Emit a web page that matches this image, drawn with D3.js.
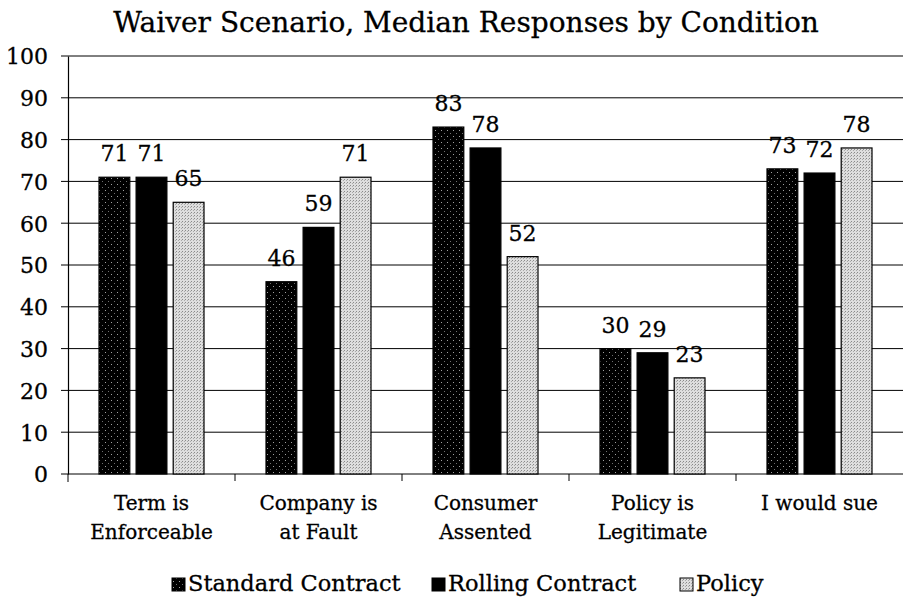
<!DOCTYPE html>
<html>
<head>
<meta charset="utf-8">
<script src="https://cdn.jsdelivr.net/npm/d3@7"></script>
<style>
  body { margin: 0; background: #fff; }
  svg text { font-family: "DejaVu Serif", "Liberation Serif", serif; fill: #000; stroke: #000; stroke-width: 0.3px; }
</style>
</head>
<body>
<svg id="chart"></svg>
<script>
// data
const categories = [["Term is", "Enforceable"], ["Company is", "at Fault"], ["Consumer", "Assented"], ["Policy is", "Legitimate"], ["I would sue"]];
const seriesNames = ["Standard Contract", "Rolling Contract", "Policy"];
const standardValues = [71, 46, 83, 30, 73];
const rollingValues = [71, 59, 78, 29, 72];
const policyValues = [65, 71, 52, 23, 78];
const yTicks = [0, 10, 20, 30, 40, 50, 60, 70, 80, 90, 100];

const width = 905, height = 599;
const margin = {top: 56, right: 2, bottom: 125, left: 68};

const svg = d3.select("#chart").attr("width", width).attr("height", height);

// fill patterns
const defs = svg.append("defs");
const dark = defs.append("pattern").attr("id", "pat-std")
  .attr("width", 6).attr("height", 6).attr("patternUnits", "userSpaceOnUse");
dark.append("rect").attr("width", 6).attr("height", 6).attr("fill", "#000");
dark.append("rect").attr("x", 1).attr("y", 2).attr("width", 1).attr("height", 1).attr("fill", "#a0a0a0");
dark.append("rect").attr("x", 4).attr("y", 5).attr("width", 1).attr("height", 1).attr("fill", "#707070");

const light = defs.append("pattern").attr("id", "pat-pol")
  .attr("width", 3).attr("height", 3).attr("patternUnits", "userSpaceOnUse");
light.append("rect").attr("width", 3).attr("height", 3).attr("fill", "#dedede");
light.append("rect").attr("x", 0).attr("y", 0).attr("width", 1).attr("height", 1).attr("fill", "#8a8a8a");
light.append("rect").attr("x", 2).attr("y", 1).attr("width", 1).attr("height", 1).attr("fill", "#aaaaaa");

const fills = ["url(#pat-std)", "#000", "url(#pat-pol)"];

const chartW = width - margin.left - margin.right;
const chartH = height - margin.top - margin.bottom;

const g = svg.append("g").attr("transform", `translate(${margin.left},${margin.top})`);

const x0 = d3.scaleBand().domain(d3.range(categories.length)).range([0, chartW]);
const x1 = d3.scaleBand().domain(d3.range(seriesNames.length)).range([31, 136]).paddingInner(0.17);
const y = d3.scaleLinear().domain([0, 100]).range([chartH, 0]);

// gridlines
g.selectAll("line.grid").data(yTicks).enter().append("line")
  .attr("class", "grid")
  .attr("x1", -7).attr("x2", chartW)
  .attr("y1", d => y(d)).attr("y2", d => y(d))
  .attr("stroke", "#000").attr("stroke-width", 1);

// y axis
const yAxis = g.append("g").call(d3.axisLeft(y).tickValues(yTicks).tickSize(0).tickPadding(20));
yAxis.select(".domain").attr("stroke", "#000").attr("stroke-width", 1.2);
yAxis.selectAll("text").style("font-size", "22px").attr("dy", "0.36em");
yAxis.append("line").attr("x1", 0).attr("x2", 0).attr("y1", chartH).attr("y2", chartH + 8).attr("stroke", "#000");

// category boundary ticks
g.selectAll("line.ctick").data(d3.range(1, categories.length)).enter().append("line")
  .attr("x1", d => x0(d)).attr("x2", d => x0(d))
  .attr("y1", chartH).attr("y2", chartH + 7)
  .attr("stroke", "#000");

const series = [standardValues, rollingValues, policyValues];
const flat = [];
series.forEach((vals, s) => vals.forEach((v, c) => flat.push({s, c, v})));

g.selectAll("rect.bar").data(flat).enter().append("rect")
  .attr("class", "bar")
  .attr("x", d => x0(d.c) + x1(d.s))
  .attr("width", x1.bandwidth())
  .attr("y", d => y(d.v))
  .attr("height", d => chartH - y(d.v))
  .attr("fill", d => fills[d.s])
  .attr("stroke", "#000").attr("stroke-width", 1.2);

g.selectAll("text.val").data(flat).enter().append("text")
  .attr("x", d => x0(d.c) + x1(d.s) + x1.bandwidth() / 2)
  .attr("y", d => y(d.v) - 16)
  .attr("text-anchor", "middle")
  .style("font-size", "22px")
  .text(d => d.v);

// category labels
const cl = g.selectAll("text.cat").data(categories).enter().append("text")
  .attr("text-anchor", "middle")
  .attr("x", (d, i) => x0(i) + x0.bandwidth() / 2)
  .attr("y", chartH + 36)
  .style("font-size", "20px");
cl.selectAll("tspan").data(d => d).enter().append("tspan")
  .attr("x", function() { return d3.select(this.parentNode).attr("x"); })
  .attr("dy", (d, i) => i === 0 ? 0 : 29)
  .text(d => d);

// title
svg.append("text")
  .attr("x", 466).attr("y", 32)
  .attr("text-anchor", "middle")
  .style("font-size", "28px")
  .text("Waiver Scenario, Median Responses by Condition");

// legend
const legendX = [172, 432, 680];
const lg = svg.selectAll("g.leg").data(seriesNames).enter().append("g")
  .attr("transform", (d, i) => `translate(${legendX[i]},591)`);
lg.append("rect").attr("x", 0).attr("y", -13).attr("width", 13).attr("height", 13)
  .attr("fill", (d, i) => fills[i]).attr("stroke", "#000");
lg.append("text").attr("x", 16).attr("y", 0)
  .style("font-size", "22.5px")
  .text(d => d);
</script>
</body>
</html>
